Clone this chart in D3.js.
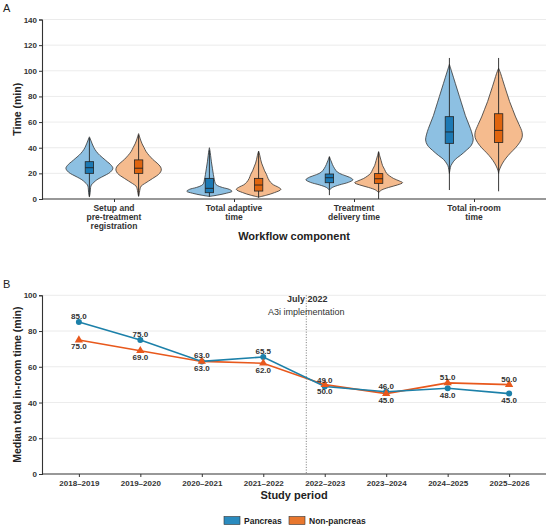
<!DOCTYPE html>
<html lang="en">
<head>
<meta charset="utf-8">
<script src="https://d3js.org/d3.v7.min.js"></script>
<style>
  body { margin: 0; background: #fff; }
  text { font-family: "Liberation Sans", Arial, sans-serif; }
</style>
</head>
<body>
<script>
// ---- panel A data: workflow components ----
const components = [
  ["Setup and", "pre-treatment", "registration"],
  ["Total adaptive", "time"],
  ["Treatment", "delivery time"],
  ["Total in-room", "time"]
];
const timeTicks = [0, 20, 40, 60, 80, 100, 120, 140];

// violin outlines: [time (min), relative density]
const pancreasViolin = [
  [[1.5,0],[5,0.8],[9,1.2],[11,2],[13,4.5],[15,7.5],[17,12],[19,17],[21,21],[24,23.5],[27,21],[29,18],[32,13.5],[34,10.5],[37,7],[40,4.5],[43,2.8],[46,1.3],[48.5,0]],
  [[2,0],[3,8],[4.5,17],[6,22.6],[7.5,20],[9,13],[10.5,8],[12,6],[15,5],[19,4],[24,3],[29,2],[34,1.2],[38,0.5],[40,0]],
  [[7,0],[9,3],[11,10],[13,19],[15,23.5],[17,20],[19,13],[21,8],[24,5],[27,3],[30,1.5],[33,0]],
  [[20,0],[23,0.6],[26,1.5],[28,3],[31,6],[34,11],[38,17],[42,22],[46,23.8],[50,23],[55,21],[60,18.5],[65,16],[70,14],[75,12],[80,10],[85,8],[90,6],[95,4],[100,2],[105,0]]
];
const nonPancreasViolin = [
  [[2,0],[5,0.8],[8,1.5],[10,2.5],[12,6],[14,10],[16,14],[18,18],[20,21],[22.5,22.7],[25,22],[28,18.5],[31,14],[34,10.5],[37,7.5],[40,5.5],[43,3.5],[46,2],[49,0.8],[51,0]],
  [[1.5,0],[3,8],[5,16],[7.5,22.3],[9.5,19],[11,15],[13,12],[16,9.5],[19,8],[22,6],[25,4.5],[28,3],[31,2],[34,1.2],[37.4,0]],
  [[5,0],[7,3],[9,10],[11,19],[12.7,24],[14,21],[16,15],[18,11],[20,8],[23,6],[26,4],[30,2.5],[34,1],[37,0]],
  [[20,0],[22,0.5],[25,2],[28,4],[32,7.5],[36,12],[40,17],[44,21],[48,23.5],[52,23.5],[58,20.5],[64,17],[70,14],[76,11],[82,8.5],[88,6],[93,4],[98,2],[102,0]]
];
// boxes: [q1, median, q3]; whiskers: [low, high]
const pancreasBox = [[20, 24.4, 29.1], [4.9, 8.3, 16.1], [12.7, 16.6, 19.5], [43.4, 52.3, 64.2]];
const nonPancreasBox = [[20, 24, 30.5], [6.2, 10.9, 16.1], [12.2, 15.8, 19.8], [44, 53.5, 66.5]];
const pancreasWhisker = [[2, 47.5], [1.8, 38], [3, 33], [7, 110]];
const nonPancreasWhisker = [[2.5, 50], [1, 37], [0, 36.5], [6, 110]];

// ---- panel B data: median in-room time by study period ----
const periods = ["2018\u20132019", "2019\u20132020", "2020\u20132021", "2021\u20132022",
                 "2022\u20132023", "2023\u20132024", "2024\u20132025", "2025\u20132026"];
const pancreasMedian = [85, 75, 63, 65.5, 49, 46, 48, 45];
const nonPancreasMedian = [75, 69, 63, 62, 50, 45, 51, 50];
const pancreasLabelAbove = [true, true, true, true, true, true, false, false];
const medianTicks = [0, 20, 40, 60, 80, 100];
const implementationIndex = 3.7; // July 2022, between 2021-2022 and 2022-2023

const colors = {
  pancreasLight: "#8dc0e2", pancreasDark: "#1c79b4", pancreasLine: "#1c80a9",
  nonLight: "#f5bb8e", nonDark: "#e0650f", nonLine: "#e8581c"
};

const W = 550, H = 528;
const svg = d3.select("body").append("svg").attr("width", W).attr("height", H);
const left = 42, right = 546;

function styleAxis(g) {
  g.select(".domain").attr("stroke", "#333").attr("stroke-width", 1.1);
  g.selectAll(".tick line").attr("stroke", "#333");
  g.selectAll(".tick text").attr("fill", "#333").style("font-size", "8px").style("font-weight", "bold");
}

// ======== Panel A ========
const xA = d3.scalePoint().domain(d3.range(components.length)).range([left, right]).padding(0.6);
const yA = d3.scaleLinear().domain([0, 140]).range([199, 19.5]);
const stepA = xA.step();
const dodge = stepA * 0.205;
const halfW = d3.scaleLinear().domain([0, 24]).range([0, stepA * 0.2]);
const boxW = stepA * 0.07;

const gA = svg.append("g");
gA.selectAll(".gridA").data(timeTicks.filter(d => d > 0)).join("line")
  .attr("x1", left).attr("x2", right)
  .attr("y1", d => yA(d)).attr("y2", d => yA(d))
  .attr("stroke", "#e6e6e6").attr("stroke-width", 0.8);

const groupsA = [
  { violin: pancreasViolin, box: pancreasBox, whisker: pancreasWhisker, off: -dodge, light: colors.pancreasLight, dark: colors.pancreasDark },
  { violin: nonPancreasViolin, box: nonPancreasBox, whisker: nonPancreasWhisker, off: dodge, light: colors.nonLight, dark: colors.nonDark }
];

groupsA.forEach(function(grp) {
  grp.violin.forEach(function(prof, i) {
    const cx = xA(i) + grp.off;
    const area = d3.area().curve(d3.curveCatmullRom)
      .y(d => yA(d[0]))
      .x0(d => cx - halfW(d[1]))
      .x1(d => cx + halfW(d[1]));
    gA.append("path").attr("d", area(prof))
      .attr("fill", grp.light).attr("stroke", "#333").attr("stroke-width", 0.8);
    const wk = grp.whisker[i];
    gA.append("line").attr("x1", cx).attr("x2", cx)
      .attr("y1", yA(wk[0])).attr("y2", yA(wk[1]))
      .attr("stroke", "#222").attr("stroke-width", 0.9);
    const b = grp.box[i];
    gA.append("rect").attr("x", cx - boxW / 2).attr("width", boxW)
      .attr("y", yA(b[2])).attr("height", yA(b[0]) - yA(b[2]))
      .attr("fill", grp.dark).attr("stroke", "#222").attr("stroke-width", 0.8);
    gA.append("line").attr("x1", cx - boxW / 2).attr("x2", cx + boxW / 2)
      .attr("y1", yA(b[1])).attr("y2", yA(b[1]))
      .attr("stroke", "#222").attr("stroke-width", 0.9);
  });
});

gA.append("g").attr("transform", "translate(" + left + ",0)")
  .call(d3.axisLeft(yA).tickValues(timeTicks).tickSize(3).tickPadding(2))
  .call(styleAxis);
const xAxisA = gA.append("g").attr("transform", "translate(0,199)")
  .call(d3.axisBottom(xA).tickSize(3).tickFormat(""))
  .call(styleAxis);
xAxisA.select(".domain").attr("d", "M" + left + ",0H" + right);

components.forEach(function(lines, i) {
  const t = gA.append("text").attr("x", xA(i)).attr("y", 211)
    .attr("text-anchor", "middle").attr("fill", "#333")
    .style("font-size", "8.5px").style("font-weight", "bold");
  lines.forEach(function(l, k) {
    t.append("tspan").attr("x", xA(i)).attr("dy", k === 0 ? 0 : 9).text(l);
  });
});

gA.append("text").attr("x", (left + right) / 2).attr("y", 240)
  .attr("text-anchor", "middle").attr("fill", "#222")
  .style("font-size", "11px").style("font-weight", "bold").text("Workflow component");
gA.append("text").attr("transform", "translate(21," + (yA(70)) + ") rotate(-90)")
  .attr("text-anchor", "middle").attr("fill", "#222")
  .style("font-size", "10.5px").style("font-weight", "bold").text("Time (min)");
svg.append("text").attr("x", 3).attr("y", 12).attr("fill", "#222")
  .style("font-size", "11px").text("A");

// ======== Panel B ========
const xB = d3.scalePoint().domain(periods).range([left, right]).padding(0.6);
const yB = d3.scaleLinear().domain([0, 100]).range([474, 295.3]);
const gB = svg.append("g");

gB.selectAll(".gridB").data(medianTicks.filter(d => d > 0)).join("line")
  .attr("x1", left).attr("x2", right)
  .attr("y1", d => yB(d)).attr("y2", d => yB(d))
  .attr("stroke", "#e6e6e6").attr("stroke-width", 0.8);

const xImpl = xB(periods[0]) + implementationIndex * xB.step();
gB.append("line").attr("x1", xImpl).attr("x2", xImpl)
  .attr("y1", yB(100)).attr("y2", yB(0))
  .attr("stroke", "#555").attr("stroke-width", 0.8).attr("stroke-dasharray", "1,1.6");
gB.append("text").attr("x", xImpl + 1).attr("y", 302).attr("text-anchor", "middle")
  .attr("fill", "#333").style("font-size", "9px").style("font-weight", "bold").text("July 2022");
gB.append("text").attr("x", xImpl).attr("y", 315).attr("text-anchor", "middle")
  .attr("fill", "#333").style("font-size", "9px").text("A3i implementation");

const line = d3.line().x((d, i) => xB(periods[i])).y(d => yB(d));
gB.append("path").attr("d", line(nonPancreasMedian)).attr("fill", "none")
  .attr("stroke", colors.nonLine).attr("stroke-width", 1.6);
gB.append("path").attr("d", line(pancreasMedian)).attr("fill", "none")
  .attr("stroke", colors.pancreasLine).attr("stroke-width", 1.6);

gB.selectAll(".ptP").data(pancreasMedian).join("circle")
  .attr("cx", (d, i) => xB(periods[i])).attr("cy", d => yB(d)).attr("r", 3)
  .attr("fill", colors.pancreasLine);
const tri = d3.symbol().type(d3.symbolTriangle).size(30);
gB.selectAll(".ptN").data(nonPancreasMedian).join("path")
  .attr("d", tri)
  .attr("transform", (d, i) => "translate(" + xB(periods[i]) + "," + yB(d) + ")")
  .attr("fill", colors.nonLine);

function labels(values, aboveFlags) {
  gB.selectAll(null).data(values).join("text")
    .attr("x", (d, i) => xB(periods[i]))
    .attr("y", (d, i) => yB(d) + (aboveFlags[i] ? -3 : 9.5))
    .attr("text-anchor", "middle").attr("fill", "#333")
    .style("font-size", "8px").style("font-weight", "bold")
    .text(d => d3.format(".1f")(d));
}
labels(pancreasMedian, pancreasLabelAbove);
labels(nonPancreasMedian, pancreasLabelAbove.map(a => !a));

gB.append("g").attr("transform", "translate(" + left + ",0)")
  .call(d3.axisLeft(yB).tickValues(medianTicks).tickSize(3).tickPadding(2))
  .call(styleAxis);
const xAxisB = gB.append("g").attr("transform", "translate(0,474)")
  .call(d3.axisBottom(xB).tickSize(3).tickPadding(3))
  .call(styleAxis);
xAxisB.select(".domain").attr("d", "M" + left + ",0H" + right);

gB.append("text").attr("x", (left + right) / 2).attr("y", 499)
  .attr("text-anchor", "middle").attr("fill", "#222")
  .style("font-size", "11px").style("font-weight", "bold").text("Study period");
gB.append("text").attr("transform", "translate(21," + yB(50) + ") rotate(-90)")
  .attr("text-anchor", "middle").attr("fill", "#222")
  .style("font-size", "10.5px").style("font-weight", "bold").text("Median total in-room time (min)");
svg.append("text").attr("x", 3).attr("y", 288).attr("fill", "#222")
  .style("font-size", "11px").text("B");

// legend
const legendItems = [
  { name: "Pancreas", fill: "#2a8bbf", x: 224 },
  { name: "Non-pancreas", fill: "#e8772e", x: 289 }
];
legendItems.forEach(function(it) {
  svg.append("rect").attr("x", it.x).attr("y", 516.5).attr("width", 16).attr("height", 8)
    .attr("fill", it.fill).attr("stroke", "#333").attr("stroke-width", 0.6);
  svg.append("text").attr("x", it.x + 20).attr("y", 523.5).attr("fill", "#222")
    .style("font-size", "8.5px").style("font-weight", "bold").text(it.name);
});
</script>
</body>
</html>
